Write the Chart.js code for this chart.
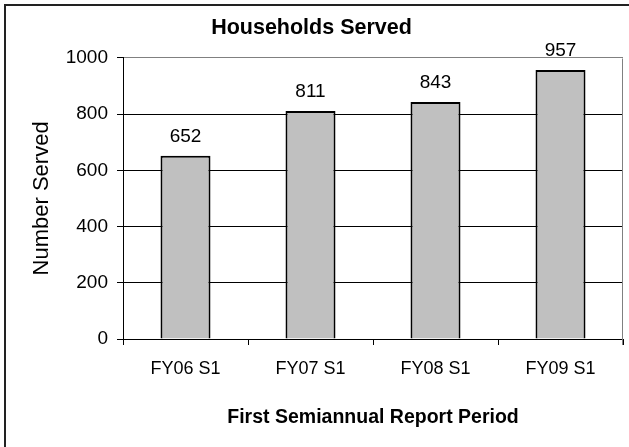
<!DOCTYPE html>
<html>
<head>
<meta charset="utf-8">
<script src="https://cdn.jsdelivr.net/npm/chart.js@4/dist/chart.umd.min.js"></script>
<style>
  html, body { margin: 0; padding: 0; background: #fff; }
  canvas { display: block; }
</style>
</head>
<body>
<canvas id="c" width="629" height="447"></canvas>
<script>
const categories = ["FY06 S1", "FY07 S1", "FY08 S1", "FY09 S1"];
const householdsServed = [652, 811, 843, 957];
const yTicks = [0, 200, 400, 600, 800, 1000];
const chartTitle = "Households Served";
const yTitle = "Number Served";
const xTitle = "First Semiannual Report Period";

const FONT = "'Liberation Sans', Arial, Helvetica, sans-serif";

const frame = {
  id: 'frame',
  beforeDraw(chart) {
    const ctx = chart.ctx;
    ctx.save();
    ctx.fillStyle = '#fff';
    ctx.fillRect(0, 0, chart.width, chart.height);
    ctx.strokeStyle = '#222';
    ctx.lineWidth = 2;
    ctx.strokeRect(5, 5, chart.width + 20, chart.height + 20);
    ctx.restore();
  },
  afterDraw(chart) {
    const ctx = chart.ctx;
    const a = chart.chartArea;
    ctx.save();
    ctx.strokeStyle = '#808080';
    ctx.lineWidth = 1;
    ctx.beginPath();
    const rx = Math.round(a.right) - 0.5;
    ctx.moveTo(rx, Math.round(a.top) + 0.5);
    ctx.lineTo(rx, Math.round(a.bottom) + 6);
    ctx.stroke();
    ctx.restore();
  }
};

const barLabels = {
  id: 'barLabels',
  afterDatasetsDraw(chart) {
    const ctx = chart.ctx;
    const meta = chart.getDatasetMeta(0);
    const data = chart.data.datasets[0].data;
    ctx.save();
    ctx.fillStyle = '#000';
    ctx.font = "19px " + FONT;
    ctx.textAlign = 'center';
    ctx.textBaseline = 'alphabetic';
    meta.data.forEach((bar, i) => {
      ctx.fillText(String(data[i]), bar.x, bar.y - 14);
    });
    ctx.restore();
  }
};

new Chart(document.getElementById('c'), {
  type: 'bar',
  data: {
    labels: categories,
    datasets: [{
      data: householdsServed,
      backgroundColor: '#C0C0C0',
      borderColor: '#000',
      borderWidth: 2,
      categoryPercentage: 1.0,
      barPercentage: 0.4
    }]
  },
  options: {
    responsive: false,
    animation: false,
    devicePixelRatio: 1,
    layout: { padding: { left: 0, right: 6, top: 0, bottom: 0 } },
    plugins: {
      legend: { display: false },
      tooltip: { enabled: false },
      title: {
        display: true,
        text: chartTitle,
        color: '#000',
        font: { family: FONT, size: 21.5, weight: 'bold' },
        padding: { top: 15, bottom: 17 }
      }
    },
    scales: {
      x: {
        offset: true,
        grid: {
          offset: true,
          drawOnChartArea: false,
          drawTicks: true,
          tickLength: 6,
          color: '#000',
          tickColor: '#000'
        },
        border: { display: true, color: '#000', width: 1 },
        ticks: {
          color: '#000',
          font: { family: FONT, size: 18 },
          padding: 13,
          maxRotation: 0,
          autoSkip: false
        },
        title: {
          display: true,
          text: xTitle,
          color: '#000',
          font: { family: FONT, size: 19.5, weight: 'bold' },
          padding: { top: 0, bottom: 18 }
        },
        afterFit(scale) { scale.height = 108; }
      },
      y: {
        min: 0,
        max: 1000,
        afterBuildTicks(scale) { scale.ticks = yTicks.map(v => ({ value: v })); },
        grid: {
          drawTicks: true,
          tickLength: 6,
          color: (c) => (c.tick && c.tick.value === 1000) ? '#808080' : '#000',
          tickColor: '#000',
          lineWidth: 1
        },
        border: { display: true, color: '#000', width: 1 },
        ticks: {
          color: '#000',
          font: { family: FONT, size: 19 },
          padding: 9,
          callback: (v) => String(v)
        },
        title: {
          display: true,
          text: yTitle,
          color: '#000',
          font: { family: FONT, size: 22 },
          padding: { top: 29, bottom: 0 }
        },
        afterFit(scale) { scale.width = 123; }
      }
    }
  },
  plugins: [frame, barLabels]
});
</script>
</body>
</html>
